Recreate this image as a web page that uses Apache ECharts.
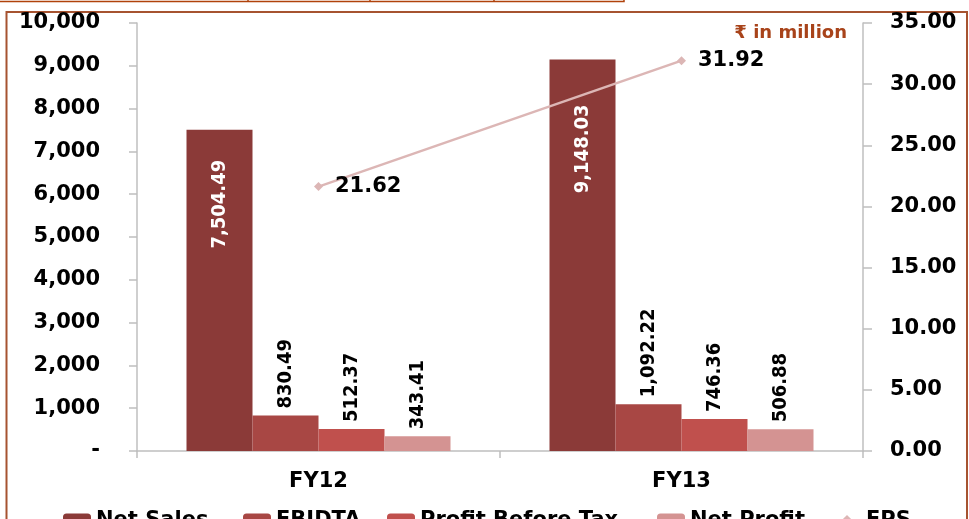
<!DOCTYPE html>
<html>
<head>
<meta charset="utf-8">
<script src="https://cdn.jsdelivr.net/npm/echarts@6/dist/echarts.min.js"></script>
<style>
  html, body { margin: 0; padding: 0; background: #fff; }
  #mychart { width: 969px; height: 519px; }
</style>
</head>
<body>
<div id="mychart"></div>
<script>
var categories = ['FY12', 'FY13'];
var netSales = [7504.49, 9148.03];
var ebidta = [830.49, 1092.22];
var profitBeforeTax = [512.37, 746.36];
var netProfit = [343.41, 506.88];
var eps = [21.62, 31.92];

// gap between bar top and the white label inside the Net Sales bars
var insideGap = [30, 45];

var barFont = "'Liberation Sans Narrow', 'DejaVu Sans Condensed', sans-serif";
var mainFont = "'DejaVu Sans', 'Noto Sans', sans-serif";

function fmt(v) {
    return v.toLocaleString('en-US', { minimumFractionDigits: 2, maximumFractionDigits: 2 });
}

var outsideLabel = {
    show: true,
    position: 'top',
    rotate: 90,
    align: 'left',
    verticalAlign: 'middle',
    distance: 7,
    color: '#000',
    fontFamily: barFont,
    fontWeight: 'bold',
    fontSize: 20,
    formatter: function (p) { return fmt(p.value); }
};

var dom = document.getElementById('mychart');
var myChart = echarts.init(dom);

var option = {
    animation: false,
    grid: { left: 137, right: 106, top: 23, bottom: 68 },
    legend: [
        { data: ['Net Sales'], left: 63 },
        { data: ['EBIDTA'], left: 243 },
        { data: ['Profit Before Tax'], left: 387 },
        { data: ['Net Profit'], left: 657 },
        { data: ['EPS'], left: 832 }
    ].map(function (l) {
        l.top = 510;
        l.itemWidth = 28;
        l.itemHeight = 14;
        l.itemGap = 0;
        l.padding = 0;
        l.textStyle = { color: '#000', fontFamily: mainFont, fontWeight: 'bold', fontSize: 21 };
        return l;
    }),
    graphic: [
        {
            type: 'rect', silent: true,
            shape: { x: 6.5, y: 12, width: 960.5, height: 530 },
            style: { fill: 'none', stroke: '#a65330', lineWidth: 2 }
        },
        {
            type: 'polyline', silent: true,
            shape: { points: [[0, 1.5], [624, 1.5], [624, -2]] },
            style: { fill: 'none', stroke: '#b0420b', lineWidth: 1.5 }
        },
        { type: 'line', silent: true, shape: { x1: 248, y1: 0, x2: 248, y2: 2 }, style: { stroke: '#b0420b', lineWidth: 1.5 } },
        { type: 'line', silent: true, shape: { x1: 370, y1: 0, x2: 370, y2: 2 }, style: { stroke: '#b0420b', lineWidth: 1.5 } },
        { type: 'line', silent: true, shape: { x1: 494, y1: 0, x2: 494, y2: 2 }, style: { stroke: '#b0420b', lineWidth: 1.5 } },
        {
            type: 'text', silent: true,
            right: 122, top: 24,
            style: {
                text: '₹ in million',
                fill: '#a8431a',
                font: "bold 18px 'DejaVu Sans', 'Noto Sans', sans-serif"
            }
        }
    ],
    xAxis: {
        type: 'category',
        data: categories,
        axisLine: { lineStyle: { color: '#bfbfbf', width: 1.5 } },
        axisTick: { show: true, length: 7, lineStyle: { color: '#bfbfbf', width: 1.5 } },
        axisLabel: { margin: 20, color: '#000', fontFamily: mainFont, fontWeight: 'bold', fontSize: 21 }
    },
    yAxis: [
        {
            type: 'value',
            min: 0, max: 10000, interval: 1000,
            splitLine: { show: false },
            axisLine: { show: true, lineStyle: { color: '#bfbfbf', width: 1.5 } },
            axisTick: { show: true, length: 8, lineStyle: { color: '#bfbfbf', width: 1.5 } },
            axisLabel: {
                margin: 37,
                color: '#000', fontFamily: mainFont, fontWeight: 'bold', fontSize: 21,
                formatter: function (v) { return v === 0 ? '-' : v.toLocaleString('en-US'); }
            }
        },
        {
            type: 'value',
            position: 'right',
            min: 0, max: 35, interval: 5,
            splitLine: { show: false },
            axisLine: { show: true, lineStyle: { color: '#bfbfbf', width: 1.5 } },
            axisTick: { show: true, length: 9, lineStyle: { color: '#bfbfbf', width: 1.5 } },
            axisLabel: {
                margin: 27,
                color: '#000', fontFamily: mainFont, fontWeight: 'bold', fontSize: 21,
                formatter: function (v) { return v.toFixed(2); }
            }
        }
    ],
    series: [
        {
            name: 'Net Sales', type: 'bar', barWidth: 66, barGap: 0,
            itemStyle: { color: '#8b3a38' },
            data: netSales.map(function (v, i) {
                return { value: v, label: { distance: insideGap[i] } };
            }),
            label: {
                show: true,
                position: 'insideTop',
                rotate: 90,
                align: 'right',
                verticalAlign: 'middle',
                color: '#fff',
                fontFamily: barFont,
                fontWeight: 'bold',
                fontSize: 20,
                formatter: function (p) { return fmt(p.value); }
            }
        },
        {
            name: 'EBIDTA', type: 'bar', barWidth: 66, barGap: 0,
            itemStyle: { color: '#a84744' },
            data: ebidta,
            label: outsideLabel
        },
        {
            name: 'Profit Before Tax', type: 'bar', barWidth: 66, barGap: 0,
            itemStyle: { color: '#c0504d' },
            data: profitBeforeTax,
            label: outsideLabel
        },
        {
            name: 'Net Profit', type: 'bar', barWidth: 66, barGap: 0,
            itemStyle: { color: '#d49392' },
            data: netProfit,
            label: outsideLabel
        },
        {
            name: 'EPS', type: 'line', yAxisIndex: 1,
            data: eps,
            symbol: 'diamond', symbolSize: 9,
            lineStyle: { color: '#dcb6b5', width: 2.5 },
            itemStyle: { color: '#dcb6b5' },
            label: {
                show: true,
                position: 'right',
                distance: 12,
                color: '#000',
                fontFamily: mainFont,
                fontWeight: 700,
                fontSize: 21,
                formatter: function (p) { return p.value.toFixed(2); }
            },
            z: 5
        }
    ]
};

if (option && typeof option === 'object') {
    myChart.setOption(option);
}
</script>
</body>
</html>
